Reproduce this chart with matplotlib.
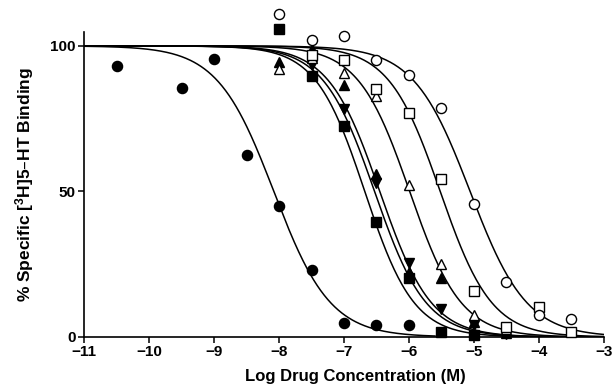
import numpy as np
import matplotlib.pyplot as plt

plt.rcParams['font.family'] = ['Liberation Sans', 'DejaVu Sans']
plt.rcParams['font.weight'] = 'bold'

# measured points: log concentration (M) and % specific binding
x_fc = [-10.5, -9.5, -9, -8.5, -8, -7.5, -7, -6.5, -6]
y_fc = [93.2, 85.6, 95.6, 62.5, 45.1, 22.9, 4.9, 4.2, 4.0]

x_fs = [-8, -7.5, -7, -6.5, -6, -5.5, -5]
y_fs = [105.7, 89.7, 72.6, 39.6, 20.2, 1.6, 0.6]

x_fu = [-8, -7.5, -7, -6.5, -6, -5.5, -5, -4.5]
y_fu = [94.5, 99.0, 86.6, 56.0, 22.3, 20.4, 5.3, 1.5]

x_fd = [-7.5, -7, -6.5, -6, -5.5, -5, -4.5]
y_fd = [93.5, 78.4, 53.0, 25.4, 9.5, 4.1, 1.0]

x_ou = [-8, -7.5, -7, -6.5, -6, -5.5, -5, -4.5]
y_ou = [92.0, 96.0, 90.6, 82.8, 52.2, 25.0, 7.6, 2.9]

x_os = [-7.5, -7, -6.5, -6, -5.5, -5, -4.5, -4, -3.5]
y_os = [97.0, 95.1, 85.1, 76.9, 54.2, 15.8, 3.5, 10.4, 1.8]

x_oc = [-8, -7.5, -7, -6.5, -6, -5.5, -5, -4.5, -4, -3.5]
y_oc = [110.8, 102.2, 103.5, 95.0, 90.0, 78.6, 45.6, 18.8, 7.6, 6.2]

# fitted curves: log IC50, hill slope, end of curve
ic50s = [-8.08, -6.68, -6.45, -6.53, -5.99, -5.52, -5.06]
slopes = [1.0, 1.15, 1.1, 1.1, 1.1, 1.1, 1.0]
x_end = [-5.6, -3, -3, -3, -3, -3, -3]

fig = plt.figure(figsize=(6.15, 3.85), dpi=100)
ax = fig.add_axes([0.1366, 0.1247, 0.8455, 0.7923])

for ic, n, xe in zip(ic50s, slopes, x_end):
    xx = np.linspace(-11, xe, 400)
    yy = 100 / (1 + 10 ** ((xx - ic) * n))
    ax.plot(xx, yy, color='black', lw=1.1, zorder=2)

ms = 7.3
sets = [
    (x_fc, y_fc, 'o', 'black'),
    (x_fs, y_fs, 's', 'black'),
    (x_fu, y_fu, '^', 'black'),
    (x_fd, y_fd, 'v', 'black'),
    (x_ou, y_ou, '^', 'white'),
    (x_os, y_os, 's', 'white'),
    (x_oc, y_oc, 'o', 'white'),
]
for xs, ys, m, fc in sets:
    ax.plot(xs, ys, ls='none', marker=m, ms=ms, mfc=fc, mec='black',
            mew=1.0, zorder=3, clip_on=False)

ax.set_xlim(-11, -3)
ax.set_ylim(0, 104.8)
ax.set_xticks(range(-11, -2))
ax.set_xticklabels(['\u221211', '\u221210', '\u22129', '\u22128', '\u22127',
                    '\u22126', '\u22125', '\u22124', '\u22123'])
ax.set_yticks([0, 50, 100])
ax.spines['top'].set_visible(False)
ax.spines['right'].set_visible(False)
ax.spines['left'].set_linewidth(1.2)
ax.spines['bottom'].set_linewidth(1.2)
ax.tick_params(direction='out', length=4, width=1.1, labelsize=11, pad=2)

ax.set_xlabel('Log Drug Concentration (M)', fontsize=12, fontweight='bold')
ax.xaxis.set_label_coords(0.522, -0.105)
ax.set_ylabel('% Specific [$\\mathregular{^3}$H]5\u2013HT Binding', fontsize=12.5,
              fontweight='bold', labelpad=10)

fig.savefig('out.png', dpi=100)
